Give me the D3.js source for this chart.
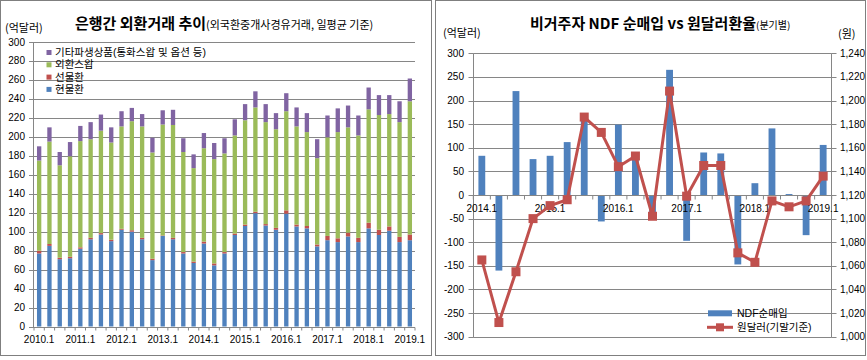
<!DOCTYPE html>
<html><head><meta charset="utf-8">
<script src="https://cdn.jsdelivr.net/npm/d3@7/dist/d3.min.js"></script>
<style>body{margin:0;background:#fff}svg{display:block}</style>
</head><body>
<svg id="c" width="867" height="360"></svg>
<script>
// ---------- Left chart data ----------
const quartersL = ["2010.1","2010.2","2010.3","2010.4","2011.1","2011.2","2011.3","2011.4",
  "2012.1","2012.2","2012.3","2012.4","2013.1","2013.2","2013.3","2013.4",
  "2014.1","2014.2","2014.3","2014.4","2015.1","2015.2","2015.3","2015.4",
  "2016.1","2016.2","2016.3","2016.4","2017.1","2017.2","2017.3","2017.4",
  "2018.1","2018.2","2018.3","2018.4","2019.1"];
const labelsL = ["2010.1","2011.1","2012.1","2013.1","2014.1","2015.1","2016.1","2017.1","2018.1","2019.1"];
const spot  = [77,85,71,72,82,92,97,90,102,100,92,70,95.5,92,77,67,87.5,64.5,77,96.5,106,119.5,106.5,102,119,105.5,103.5,84.5,91,89,95,89,103.5,96.5,101,89,91];
const fwd   = [3,2,1.5,1.5,1.5,1.5,1.5,1.5,1,1.5,1.5,1.5,0.5,1.5,1.5,1.5,2,2,1.5,1.5,1.5,1.5,1.5,2,3.5,2,2.5,2,4.5,4,4,4.5,6,5.5,4.5,5.5,6];
const swap  = [95,108,97.5,106,112,104,108,102.5,108,115,117.5,112,117,119,105.5,98.5,98.5,110,104,103.5,110,110,107.5,104,104.5,103.5,99,91,104,112,111,108,119.5,121,118.5,121,140.5];
const other = [15,15,14,15,16,18,17,16,16,14,13,15.5,15,16,14.5,14.5,16,17,16,17,17,17,19,17,19,20,20,20,23,25,23,21,23,21,20,22,24];
const yTicksL = [0,20,40,60,80,100,120,140,160,180,200,220,240,260,280,300];
const seriesL = [
  {key:"other", name:"기타파생상품(통화스왑 및 옵션 등)", color:"#8064A2"},
  {key:"swap",  name:"외환스왑", color:"#9BBB59"},
  {key:"fwd",   name:"선물환",   color:"#C0504D"},
  {key:"spot",  name:"현물환",   color:"#4F81BD"}
];

// ---------- Right chart data ----------
const quartersR = ["2014.1","2014.2","2014.3","2014.4","2015.1","2015.2","2015.3","2015.4",
  "2016.1","2016.2","2016.3","2016.4","2017.1","2017.2","2017.3","2017.4",
  "2018.1","2018.2","2018.3","2018.4","2019.1"];
const labelsR = ["2014.1","2015.1","2016.1","2017.1","2018.1","2019.1"];
const ndf = [83,-160,220,76,83,112,160,-56,149,75,-45,265,-97,90,88,-147,25,141,2,-85,106];
const krw = [1065,1012,1055,1100,1111,1116,1186,1173,1144,1153,1102,1208,1119,1145,1145,1071,1063,1115,1110,1115,1136];
const yTicksRL = [-300,-250,-200,-150,-100,-50,0,50,100,150,200,250,300];
const yTicksRR = [1000,1020,1040,1060,1080,1100,1120,1140,1160,1180,1200,1220,1240];

const KR = "'Noto Sans CJK KR','Noto Sans',sans-serif";
const KRL = "'Liberation Sans','Noto Sans CJK KR',sans-serif";
const NUM = "'Liberation Sans',Arial,sans-serif";
const GRID = "#868686";

const svg = d3.select("#c");
svg.append("rect").attr("width",867).attr("height",360).attr("fill","#fff");

// frames
svg.append("rect").attr("x",0.5).attr("y",0.5).attr("width",431).attr("height",355)
  .attr("fill","none").attr("stroke","#7f7f7f");
svg.append("rect").attr("x",435.5).attr("y",0.5).attr("width",430).attr("height",355)
  .attr("fill","none").attr("stroke","#7f7f7f");

// ================= LEFT CHART =================
{
  const g = svg.append("g");
  const x = d3.scaleBand().domain(quartersL).range([34,415]).paddingInner(0.58).paddingOuter(0.29);
  const y = d3.scaleLinear().domain([0,300]).range([326.5,42]);
  const step = x.step();

  g.selectAll("line.grid").data(yTicksL.filter(v=>v>0)).join("line")
    .attr("x1",34).attr("x2",415).attr("y1",d=>Math.round(y(d))+0.5).attr("y2",d=>Math.round(y(d))+0.5)
    .attr("stroke",GRID).attr("stroke-width",1);
  g.append("line").attr("x1",33.5).attr("x2",33.5).attr("y1",Math.round(y(300))+0.5).attr("y2",Math.round(y(0))+0.5)
    .attr("stroke",GRID);
  g.selectAll("line.yt").data(yTicksL).join("line")
    .attr("x1",29).attr("x2",34).attr("y1",d=>Math.round(y(d))+0.5).attr("y2",d=>Math.round(y(d))+0.5)
    .attr("stroke",GRID);
  g.selectAll("text.yl").data(yTicksL).join("text")
    .attr("x",25).attr("y",d=>y(d)).attr("dy","0.35em").attr("text-anchor","end")
    .attr("font-family",NUM).attr("font-size",10).attr("fill","#000").text(d=>d);

  const rows = quartersL.map((q,i)=>({q, spot:spot[i], fwd:fwd[i], swap:swap[i], other:other[i]}));
  const stack = d3.stack().keys(["spot","fwd","swap","other"])(rows);
  const colorOf = Object.fromEntries(seriesL.map(s=>[s.key,s.color]));
  stack.forEach(layer=>{
    g.selectAll(null).data(layer).join("rect")
      .attr("x",d=>x(d.data.q)).attr("width",x.bandwidth())
      .attr("y",d=>y(d[1])).attr("height",d=>y(d[0])-y(d[1]))
      .attr("fill",colorOf[layer.key]);
  });

  g.append("line").attr("x1",33.5).attr("x2",415).attr("y1",Math.round(y(0))+0.5).attr("y2",Math.round(y(0))+0.5)
    .attr("stroke",GRID);
  g.selectAll("line.xt").data(quartersL.concat(["end"])).join("line")
    .attr("x1",(d,i)=>34+i*step).attr("x2",(d,i)=>34+i*step)
    .attr("y1",Math.round(y(0))+0.5).attr("y2",Math.round(y(0))+3.5).attr("stroke",GRID);
  g.selectAll("text.xl").data(quartersL.filter(q=>labelsL.includes(q))).join("text")
    .attr("x",d=>x(d)+x.bandwidth()/2).attr("y",339.5).attr("dy","0.35em").attr("text-anchor","middle")
    .attr("font-family",NUM).attr("font-size",10).attr("fill","#000").text(d=>d);

  const lg = g.append("g");
  seriesL.forEach((s,i)=>{
    const cy = 52.5 + i*12.3;
    lg.append("rect").attr("x",46.5).attr("y",cy-2.5).attr("width",5).attr("height",5).attr("fill",s.color);
    lg.append("text").attr("x",55).attr("y",cy).attr("dy","0.35em")
      .attr("font-family",KRL).attr("font-size",10.5).attr("fill","#000").text(s.name);
  });

  const t = g.append("text").attr("x",75).attr("y",29).attr("font-family",KR).attr("fill","#000");
  t.append("tspan").attr("font-size",15).attr("font-weight",700).text("은행간 외환거래 추이");
  t.append("tspan").attr("font-size",11).text("(외국환중개사경유거래, 일평균 기준)");
  g.append("text").attr("x",5).attr("y",32).attr("font-family",KR).attr("font-size",11).attr("fill","#000").text("(억달러)");
}

// ================= RIGHT CHART =================
{
  const g = svg.append("g");
  const x = d3.scaleBand().domain(quartersR).range([473.3,831.7]).paddingInner(0.6).paddingOuter(0.3);
  const yL = d3.scaleLinear().domain([-300,300]).range([336.7,53.3]);
  const yR = d3.scaleLinear().domain([1000,1240]).range([336.7,53.3]);
  const step = x.step();
  const px = v=>Math.round(v)+0.5;

  g.selectAll("line.grid").data(yTicksRL.filter(v=>v!==0)).join("line")
    .attr("x1",473.3).attr("x2",831.7).attr("y1",d=>px(yL(d))).attr("y2",d=>px(yL(d)))
    .attr("stroke",GRID);
  g.append("line").attr("x1",473.5).attr("x2",473.5).attr("y1",px(yL(300))).attr("y2",px(yL(-300))).attr("stroke",GRID);
  g.selectAll("line.ylt").data(yTicksRL).join("line")
    .attr("x1",468.5).attr("x2",473.5).attr("y1",d=>px(yL(d))).attr("y2",d=>px(yL(d))).attr("stroke",GRID);
  g.selectAll("text.yll").data(yTicksRL).join("text")
    .attr("x",464).attr("y",d=>yL(d)).attr("dy","0.35em").attr("text-anchor","end")
    .attr("font-family",NUM).attr("font-size",10).attr("fill","#000").text(d=>d);
  g.append("line").attr("x1",831.5).attr("x2",831.5).attr("y1",px(yR(1240))).attr("y2",px(yR(1000))).attr("stroke",GRID);
  g.selectAll("line.yrt").data(yTicksRR).join("line")
    .attr("x1",831.5).attr("x2",836.5).attr("y1",d=>px(yR(d))).attr("y2",d=>px(yR(d))).attr("stroke",GRID);
  g.selectAll("text.yrl").data(yTicksRR).join("text")
    .attr("x",840).attr("y",d=>yR(d)).attr("dy","0.35em").attr("text-anchor","start")
    .attr("font-family",NUM).attr("font-size",10).attr("fill","#000").text(d=>d3.format(",")(d));

  g.selectAll("rect.bar").data(quartersR).join("rect")
    .attr("x",d=>x(d)).attr("width",x.bandwidth())
    .attr("y",(d,i)=>yL(Math.max(0,ndf[i]))).attr("height",(d,i)=>Math.abs(yL(ndf[i])-yL(0)))
    .attr("fill","#4F81BD");

  g.append("line").attr("x1",473.3).attr("x2",831.7).attr("y1",px(yL(0))).attr("y2",px(yL(0))).attr("stroke",GRID);
  g.selectAll("line.xt").data(quartersR.concat(["end"])).join("line")
    .attr("x1",(d,i)=>473.3+i*step).attr("x2",(d,i)=>473.3+i*step)
    .attr("y1",px(yL(0))).attr("y2",px(yL(0))+4).attr("stroke",GRID);
  g.selectAll("text.xl").data(quartersR.filter(q=>labelsR.includes(q))).join("text")
    .attr("x",d=>x(d)+x.bandwidth()/2).attr("y",208.3).attr("dy","0.35em").attr("text-anchor","middle")
    .attr("font-family",NUM).attr("font-size",10).attr("fill","#000").text(d=>d);

  const line = d3.line().x((d,i)=>x(quartersR[i])+x.bandwidth()/2).y(d=>yR(d));
  g.append("path").datum(krw).attr("d",line).attr("fill","none")
    .attr("stroke","#C0504D").attr("stroke-width",3).attr("stroke-linejoin","round");
  g.selectAll("rect.mk").data(krw).join("rect")
    .attr("x",(d,i)=>x(quartersR[i])+x.bandwidth()/2-4.5).attr("y",d=>yR(d)-4.5)
    .attr("width",9).attr("height",9).attr("fill","#C0504D");

  g.append("rect").attr("x",708).attr("y",310.3).attr("width",24).attr("height",6).attr("fill","#4F81BD");
  g.append("text").attr("x",737).attr("y",313.3).attr("dy","0.35em").attr("font-family",KRL).attr("font-size",10.5)
    .attr("fill","#000").text("NDF순매입");
  g.append("line").attr("x1",707).attr("x2",733).attr("y1",327.3).attr("y2",327.3).attr("stroke","#C0504D").attr("stroke-width",3);
  g.append("rect").attr("x",716).attr("y",323.3).attr("width",8).attr("height",8).attr("fill","#C0504D");
  g.append("text").attr("x",737).attr("y",327.3).attr("dy","0.35em").attr("font-family",KRL).attr("font-size",10.5)
    .attr("fill","#000").text("원달러(기말기준)");

  const t = g.append("text").attr("x",530).attr("y",29).attr("font-family",KR).attr("fill","#000");
  t.append("tspan").attr("font-size",15).attr("font-weight",700).text("비거주자 NDF 순매입 vs 원달러환율");
  t.append("tspan").attr("font-size",10).text("(분기별)");
  g.append("text").attr("x",443).attr("y",37).attr("font-family",KR).attr("font-size",11).attr("fill","#000").text("(억달러)");
  g.append("text").attr("x",838).attr("y",38).attr("font-family",KR).attr("font-size",11).attr("fill","#000").text("(원)");
}
</script>
</body></html>
